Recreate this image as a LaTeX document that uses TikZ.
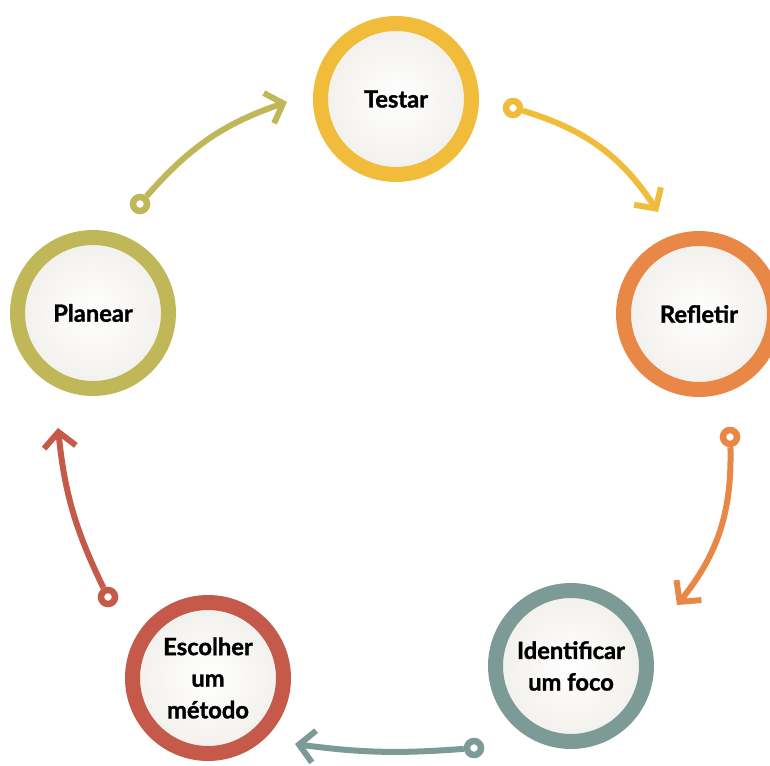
\documentclass[tikz,border=0pt]{standalone}
\usepackage{fontspec}
\setmainfont{Lato}[BoldFeatures={FakeBold=1.3}]
\usetikzlibrary{arrows.meta}
\definecolor{cyOlive}{RGB}{192,184,88}
\definecolor{cyYellow}{RGB}{240,188,58}
\definecolor{cyOrange}{RGB}{233,136,70}
\definecolor{cyTeal}{RGB}{124,154,150}
\definecolor{cyRed}{RGB}{197,90,74}
\definecolor{cyPaper}{RGB}{242,240,236}

\tikzset{
  stage/.style={circle, draw=#1, line width=0.3cm, minimum size=3.02cm, inner sep=0pt,
    shading=radial, inner color=white, outer color=cyPaper, align=center,
    font=\bfseries\fontsize{13.5}{18}\selectfont},
  tail/.style={circle, draw=#1, line width=0.13cm, fill=white, minimum size=0.28cm, inner sep=0pt},
  flow/.style={draw=#1, line width=0.12cm, -{Straight Barb[length=0.3cm,width=0.64cm]}},
}

\begin{document}
\begin{tikzpicture}[x=0.02cm,y=0.02cm]
  \useasboundingbox (0,0) rectangle (770,-766);

  % Stages of the cycle
  \node[stage=cyYellow] (testar) at (396,-99) {Testar};
  \node[stage=cyOrange] (refletir) at (699,-314) {Refletir};
  \node[stage=cyTeal] (foco) at (571,-666) {Identificar\\ um foco};
  \node[stage=cyRed] (metodo) at (208,-678) {Escolher\\ um\\ método};
  \node[stage=cyOlive] (planear) at (93,-313) {Planear};

  % Arrow tails
  \node[tail=cyOlive] (t1) at (140,-204) {};
  \node[tail=cyYellow] (t2) at (513,-108) {};
  \node[tail=cyOrange] (t3) at (730,-437) {};
  \node[tail=cyTeal] (t4) at (474,-748) {};
  \node[tail=cyRed] (t5) at (108,-597) {};

  % Arrow heads
  \coordinate (h1) at (287,-102);
  \coordinate (h2) at (658,-212);
  \coordinate (h3) at (677,-605);
  \coordinate (h4) at (295,-744);
  \coordinate (h5) at (58,-428);

  % Arrows
  \draw[flow=cyOlive] (t1) to[bend left=15] (h1);
  \draw[flow=cyYellow] (t2) to[bend left=20] (h2);
  \draw[flow=cyOrange] (t3) to[bend left=20] (h3);
  \draw[flow=cyTeal] (t4) to[bend left=6] (h4);
  \draw[flow=cyRed] (t5) to[bend left=10] (h5);
\end{tikzpicture}
\end{document}
